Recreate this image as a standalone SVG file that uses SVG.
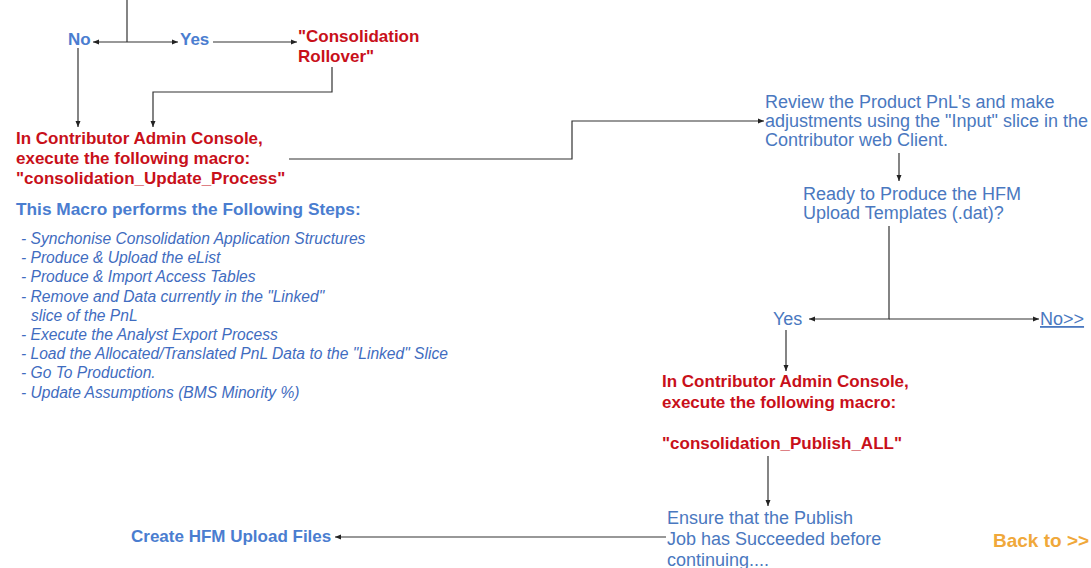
<svg xmlns="http://www.w3.org/2000/svg" width="1091" height="568" viewBox="0 0 1091 568">
<defs>
<marker id="ah" viewBox="0 0 6 6" refX="6" refY="3" markerWidth="6" markerHeight="6" markerUnits="userSpaceOnUse" orient="auto"><path d="M0,0.5 L6,3 L0,5.5 z" fill="#222"/></marker>
<style>
text{font-family:"Liberation Sans",Arial,sans-serif}
.bb{fill:#4a7dd0;font-weight:bold;font-size:17px}
.rb{fill:#c8101a;font-weight:bold;font-size:17px}
.bn{fill:#4a78c0;font-size:18px}
.it{fill:#3f6cc0;font-style:italic;font-size:15.6px}
.c{fill:none;stroke:#333;stroke-width:1.2}
</style>
</defs>
<rect width="1091" height="568" fill="#fff"/>
<g id="connectors">
<path class="c" d="M127,0 V42"/>
<path class="c" d="M127,42 H93" marker-end="url(#ah)"/>
<path class="c" d="M127,42 H178" marker-end="url(#ah)"/>
<path class="c" d="M213,42 H297" marker-end="url(#ah)"/>
<path class="c" d="M78,48 V127" marker-end="url(#ah)"/>
<path class="c" d="M332,67 V92 H153 V127" marker-end="url(#ah)"/>
<path class="c" d="M289,159 H572 V121 H764" marker-end="url(#ah)"/>
<path class="c" d="M899,153 V181" marker-end="url(#ah)"/>
<path class="c" d="M889,226 V319 H809" marker-end="url(#ah)"/>
<path class="c" d="M889,319 H1039" marker-end="url(#ah)"/>
<path class="c" d="M786,330 V371" marker-end="url(#ah)"/>
<path class="c" d="M768,456 V506" marker-end="url(#ah)"/>
<path class="c" d="M666,537 H335" marker-end="url(#ah)"/>
</g>
<g id="no1"><text class="bb" x="68" y="45">No</text></g>
<g id="yes1"><text class="bb" x="180" y="45">Yes</text></g>
<g id="rollover"><text class="rb" x="298" y="42">"Consolidation</text><text class="rb" x="298" y="62">Rollover"</text></g>
<g id="update"><text class="rb" x="16" y="144">In Contributor Admin Console,</text><text class="rb" x="16" y="164">execute the following macro:</text><text class="rb" x="16" y="184">"consolidation_Update_Process"</text></g>
<g id="steps">
<text class="bb" x="16" y="215" style="font-size:17.3px">This Macro performs the Following Steps:</text>
<text class="it" x="21" y="244">- Synchonise Consolidation Application Structures</text>
<text class="it" x="21" y="263">- Produce &amp; Upload the eList</text>
<text class="it" x="21" y="282">- Produce &amp; Import Access Tables</text>
<text class="it" x="21" y="302">- Remove and Data currently in the "Linked"</text>
<text class="it" x="31" y="321">slice of the PnL</text>
<text class="it" x="21" y="340">- Execute the Analyst Export Process</text>
<text class="it" x="21" y="359">- Load the Allocated/Translated PnL Data to the "Linked" Slice</text>
<text class="it" x="21" y="378">- Go To Production.</text>
<text class="it" x="21" y="398">- Update Assumptions (BMS Minority %)</text>
</g>
<g id="review"><text class="bn" x="765" y="108">Review the Product PnL's and make</text><text class="bn" x="765" y="127">adjustments using the "Input" slice in the</text><text class="bn" x="765" y="146">Contributor web Client.</text></g>
<g id="ready"><text class="bn" x="803" y="200">Ready to Produce the HFM</text><text class="bn" x="803" y="219">Upload Templates (.dat)?</text></g>
<g id="yes2"><text class="bn" x="773" y="325">Yes</text></g>
<g id="no2"><text class="bn" x="1040" y="325" text-decoration="underline">No&gt;&gt;</text></g>
<g id="publish"><text class="rb" x="662" y="387">In Contributor Admin Console,</text><text class="rb" x="662" y="408">execute the following macro:</text><text class="rb" x="662" y="449">"consolidation_Publish_ALL"</text></g>
<g id="ensure"><text class="bn" x="667" y="524">Ensure that the Publish</text><text class="bn" x="667" y="545">Job has Succeeded before</text><text class="bn" x="667" y="566">continuing....</text></g>
<g id="hfm"><text class="bb" x="131" y="542">Create HFM Upload Files</text></g>
<g id="back"><text x="993" y="547" style="fill:#f0a83a;font-weight:bold;font-size:19px">Back to &gt;&gt;</text></g>
</svg>
